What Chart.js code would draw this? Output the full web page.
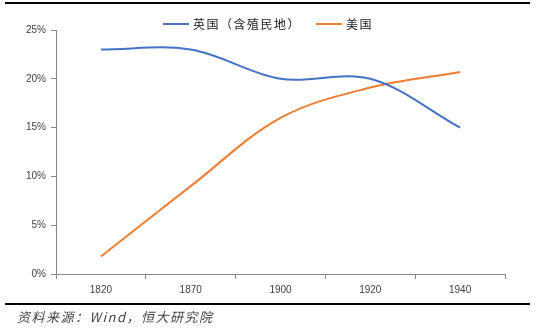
<!DOCTYPE html>
<html>
<head>
<meta charset="utf-8">
<script src="https://cdn.jsdelivr.net/npm/chart.js@4/dist/chart.umd.min.js"></script>
<style>
  html, body { margin: 0; padding: 0; background: #fff; }
  #wrap { position: relative; width: 536px; height: 328px; overflow: hidden; }
  #chart { position: absolute; left: 0; top: 0; }
  .rule { position: absolute; left: 5px; width: 525px; background: #000; }
  #note {
    position: absolute; left: 17px; top: 307px;
    font: italic 13px "Noto Sans CJK SC"; letter-spacing: 1.5px; color: #444;
    white-space: nowrap;
  }
</style>
</head>
<body>
<div id="wrap">
  <canvas id="chart" width="536" height="328"></canvas>
  <div class="rule" style="top:2px;height:2px"></div>
  <div class="rule" style="top:303px;height:2px"></div>
  <div id="note">资料来源：Wind，恒大研究院</div>
</div>
<script>
  // ======= Data (share of world GDP, %) =======
  const years = ["1820", "1870", "1900", "1920", "1940"];
  const ukShare = [23.0, 23.0, 20.0, 20.0, 15.0];   // 英国（含殖民地）
  const usShare = [1.8, 9.0, 16.0, 19.1, 20.7];     // 美国
  const yTicks = [0, 5, 10, 15, 20, 25];

  const AXIS = "#868686";
  const LABEL = "#404040";

  // Legend drawn at the top centre, Excel style (short line + label)
  const topLegend = {
    id: "topLegend",
    afterDraw(chart) {
      const ctx = chart.ctx;
      ctx.save();
      ctx.font = '12px "Noto Sans CJK SC"';
      ctx.letterSpacing = "1.5px";
      ctx.textBaseline = "middle";
      const lineW = 26, gap = 4, itemGap = 15, y = 24;
      const items = chart.data.datasets.map(ds => ({
        ds, w: lineW + gap + ctx.measureText(ds.label).width
      }));
      const total = items.reduce((s, i) => s + i.w, 0) + itemGap * (items.length - 1);
      let x = Math.round((chart.width - total) / 2);
      items.forEach(it => {
        ctx.strokeStyle = it.ds.borderColor;
        ctx.lineWidth = 2;
        ctx.beginPath();
        ctx.moveTo(x, y);
        ctx.lineTo(x + lineW, y);
        ctx.stroke();
        ctx.fillStyle = "#1a1a1a";
        ctx.fillText(it.ds.label, x + lineW + gap, y);
        x += it.w + itemGap;
      });
      ctx.restore();
    }
  };

  new Chart(document.getElementById("chart"), {
    type: "line",
    data: {
      labels: years,
      datasets: [
        { label: "英国（含殖民地）", data: ukShare, borderColor: "#4472C4" },
        { label: "美国", data: usShare, borderColor: "#ED7D31" }
      ]
    },
    options: {
      responsive: false,
      animation: false,
      layout: { padding: { left: 0, right: 31, top: 30, bottom: 24 } },
      plugins: { legend: { display: false }, tooltip: { enabled: false } },
      elements: {
        point: { radius: 0 },
        line: { borderWidth: 2, tension: 0.35, fill: false }
      },
      scales: {
        x: {
          offset: true,
          grid: { offset: true, drawOnChartArea: false, tickLength: 5, color: AXIS },
          border: { color: AXIS },
          ticks: { padding: 5, color: LABEL, font: { family: "Liberation Sans", size: 10 } },
          afterFit(s) { s.height = 30; }
        },
        y: {
          min: 0, max: 25,
          afterBuildTicks(s) { s.ticks = yTicks.map(v => ({ value: v })); },
          grid: { drawOnChartArea: false, tickLength: 5, color: AXIS },
          border: { color: AXIS },
          ticks: {
            padding: 5, color: LABEL, font: { family: "Liberation Sans", size: 10 },
            callback: v => v + "%"
          },
          afterFit(s) { s.width = 56; }
        }
      }
    },
    plugins: [topLegend]
  });
</script>
</body>
</html>
